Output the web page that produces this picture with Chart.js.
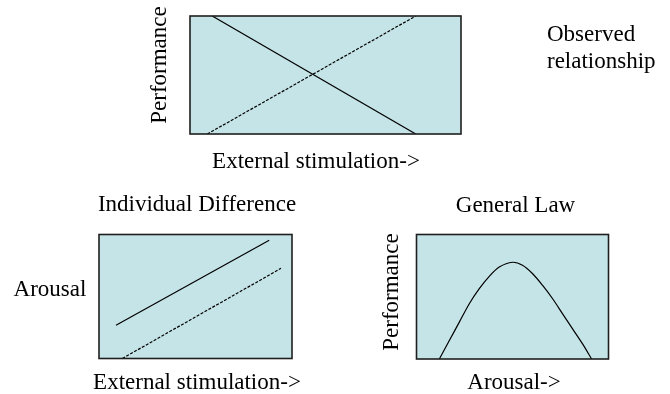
<!DOCTYPE html>
<html lang="en">
<head>
    <meta charset="UTF-8">
    <title>Arousal and Performance</title>
    <style>
        body {
            margin: 0;
            background: #fff;
        }

        #wrap {
            position: relative;
            width: 670px;
            height: 394px;
        }

        canvas {
            position: absolute;
        }
    </style>
</head>
<body>
    <div id="wrap">
        <canvas id="observedChart" width="670" height="180" style="left:0;top:0"></canvas>
        <canvas id="individualChart" width="335" height="214" style="left:0;top:180px"></canvas>
        <canvas id="lawChart" width="335" height="214" style="left:335px;top:180px"></canvas>
    </div>

    <script src="https://cdn.jsdelivr.net/npm/chart.js@4.4.3/dist/chart.umd.min.js"></script>
    <script>
        // values are in percent of each panel's width / height
        const observedSolidX = [8.2, 83.3];
        const observedSolidY = [100, 0];
        const observedDashedX = [6.4, 83.3];
        const observedDashedY = [0, 100];

        const individualSolidX = [8.8, 88.2];
        const individualSolidY = [26.8, 95.3];
        const individualDashedX = [12.1, 94.3];
        const individualDashedY = [0, 72.7];

        const lawArousal = [11.9, 17.1, 22.3, 27.5, 32.7, 37.9, 43.1, 50.0, 55.2, 60.5, 65.7, 70.9, 76.1, 81.3, 86.5, 91.2];
        const lawPerformance = [0, 14.8, 29.6, 44.4, 56.5, 66.4, 73.9, 77.7, 75.3, 68.5, 59.1, 48.4, 36.3, 24.2, 12.1, 0];

        const FONT = '23px "Liberation Serif", "Times New Roman", serif';
        const PANEL_FILL = '#c5e4e7';

        function toPoints(xs, ys) {
            return xs.map((x, i) => ({ x: x, y: ys[i] }));
        }

        const panelPlugin = {
            id: 'panel',
            beforeDatasetsDraw(chart, args, opts) {
                const { ctx, chartArea: a } = chart;
                ctx.save();
                ctx.fillStyle = PANEL_FILL;
                ctx.fillRect(a.left, a.top, a.width, a.height);
                ctx.restore();
            },
            afterDatasetsDraw(chart, args, opts) {
                const { ctx, chartArea: a } = chart;
                ctx.save();
                ctx.strokeStyle = '#1e1e1e';
                ctx.lineWidth = 1.6;
                ctx.strokeRect(a.left, a.top, a.width, a.height);

                ctx.fillStyle = '#000';
                ctx.font = FONT;
                ctx.textBaseline = 'middle';
                (opts.labels || []).forEach(lbl => {
                    ctx.save();
                    ctx.translate(lbl.x, lbl.y);
                    if (lbl.rotate) ctx.rotate(lbl.rotate);
                    ctx.textAlign = lbl.align || 'center';
                    ctx.fillText(lbl.text, 0, 0);
                    ctx.restore();
                });
                ctx.restore();
            }
        };

        function lineSet(points, dashed, smooth) {
            return {
                data: points,
                borderColor: '#000',
                borderWidth: 1.2,
                borderDash: dashed ? [3, 1.5] : [],
                pointRadius: 0,
                fill: false,
                tension: smooth ? 0.3 : 0
            };
        }

        function makeChart(id, datasets, padding, labels) {
            return new Chart(document.getElementById(id), {
                type: 'line',
                data: { datasets: datasets },
                plugins: [panelPlugin],
                options: {
                    responsive: false,
                    animation: false,
                    layout: { padding: padding },
                    plugins: {
                        legend: { display: false },
                        tooltip: { enabled: false },
                        panel: { labels: labels }
                    },
                    scales: {
                        x: { type: 'linear', min: 0, max: 100, display: false },
                        y: { type: 'linear', min: 0, max: 100, display: false }
                    }
                }
            });
        }

        makeChart('observedChart', [
            lineSet(toPoints(observedSolidX, observedSolidY), false),
            lineSet(toPoints(observedDashedX, observedDashedY), true)
        ], { left: 190, right: 209, top: 16, bottom: 46 }, [
            { text: 'Performance', x: 160, y: 65, rotate: -Math.PI / 2 },
            { text: 'External stimulation->', x: 316, y: 162 },
            { text: 'Observed', x: 547, y: 35, align: 'left' },
            { text: 'relationship', x: 547, y: 62, align: 'left' }
        ]);

        makeChart('individualChart', [
            lineSet(toPoints(individualSolidX, individualSolidY), false),
            lineSet(toPoints(individualDashedX, individualDashedY), true)
        ], { left: 99, right: 43, top: 54.5, bottom: 35.5 }, [
            { text: 'Individual Difference', x: 197, y: 25 },
            { text: 'Arousal', x: 50, y: 110 },
            { text: 'External stimulation->', x: 197, y: 203 }
        ]);

        makeChart('lawChart', [
            lineSet(toPoints(lawArousal, lawPerformance), false, true)
        ], { left: 81.5, right: 61.5, top: 54.5, bottom: 35 }, [
            { text: 'General Law', x: 180.5, y: 26 },
            { text: 'Performance', x: 57, y: 112, rotate: -Math.PI / 2 },
            { text: 'Arousal->', x: 179, y: 203 }
        ]);
    </script>
</body>
</html>
